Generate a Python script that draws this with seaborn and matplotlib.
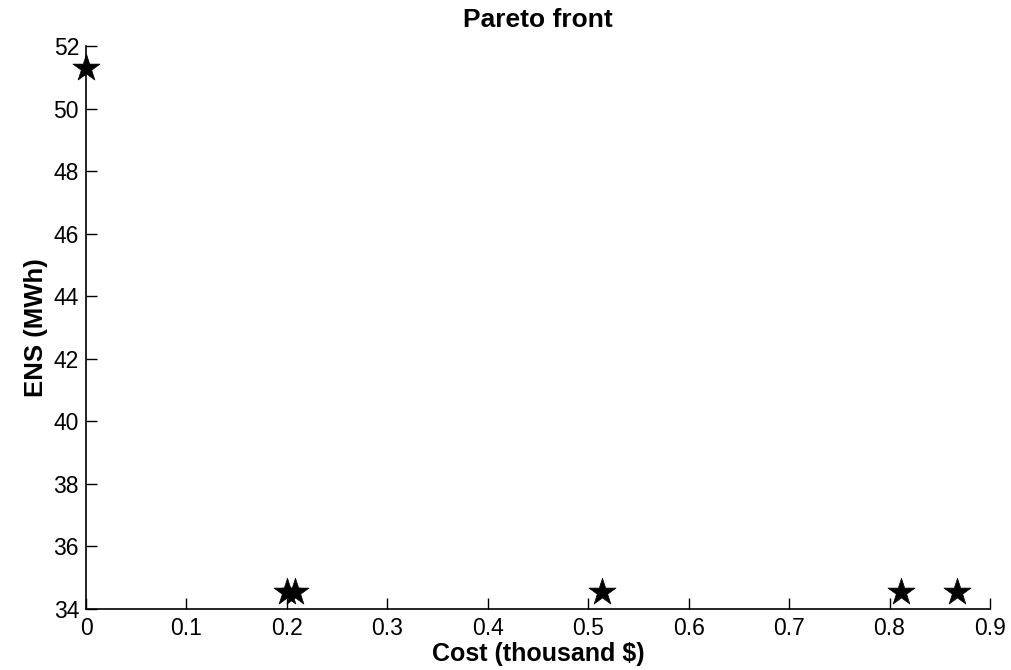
import matplotlib
matplotlib.use("Agg")
import matplotlib.pyplot as plt
import seaborn as sns
import pandas as pd

cost = [0.0, 0.2, 0.208, 0.514, 0.811, 0.867]
ens = [51.30, 34.55, 34.55, 34.53, 34.53, 34.53]
xticks = [0, 0.1, 0.2, 0.3, 0.4, 0.5, 0.6, 0.7, 0.8, 0.9]
xticklabels = ["0", "0.1", "0.2", "0.3", "0.4", "0.5", "0.6", "0.7", "0.8", "0.9"]
yticks = [34, 36, 38, 40, 42, 44, 46, 48, 50, 52]

sns.set_style("ticks")
plt.rcParams['font.family'] = ['Liberation Sans', 'DejaVu Sans']
plt.rcParams['text.color'] = 'black'
plt.rcParams['axes.labelcolor'] = 'black'

df = pd.DataFrame({"cost": cost, "ens": ens})

fig = plt.figure(figsize=(10.11, 6.70), dpi=100)
ax = fig.add_axes([0.0851, 0.0910, 0.8941, 0.8403])
sns.scatterplot(data=df, x="cost", y="ens", marker="*", color="black",
                s=420, edgecolor="black", linewidth=0.5, ax=ax, zorder=3, clip_on=False)

ax.set_xlim(0, 0.9)
ax.set_ylim(34, 52)
ax.set_xticks(xticks)
ax.set_xticklabels(xticklabels)
ax.set_yticks(yticks)
sns.despine(ax=ax)
for s in ["left", "bottom"]:
    ax.spines[s].set_linewidth(1.2)
    ax.spines[s].set_color("black")
ax.tick_params(direction="in", length=8, width=1.0, labelsize=16.5, colors="black")
ax.tick_params(axis="x", pad=6)
ax.tick_params(axis="y", pad=5)
ax.set_xlabel("Cost (thousand $)", fontsize=18, fontweight="bold", labelpad=1, color="black")
ax.set_ylabel("ENS (MWh)", fontsize=18.5, fontweight="bold", labelpad=4, color="black")
ax.set_title("Pareto front", fontsize=19, fontweight="bold", pad=14, color="black")

fig.savefig("out.png", dpi=100)
